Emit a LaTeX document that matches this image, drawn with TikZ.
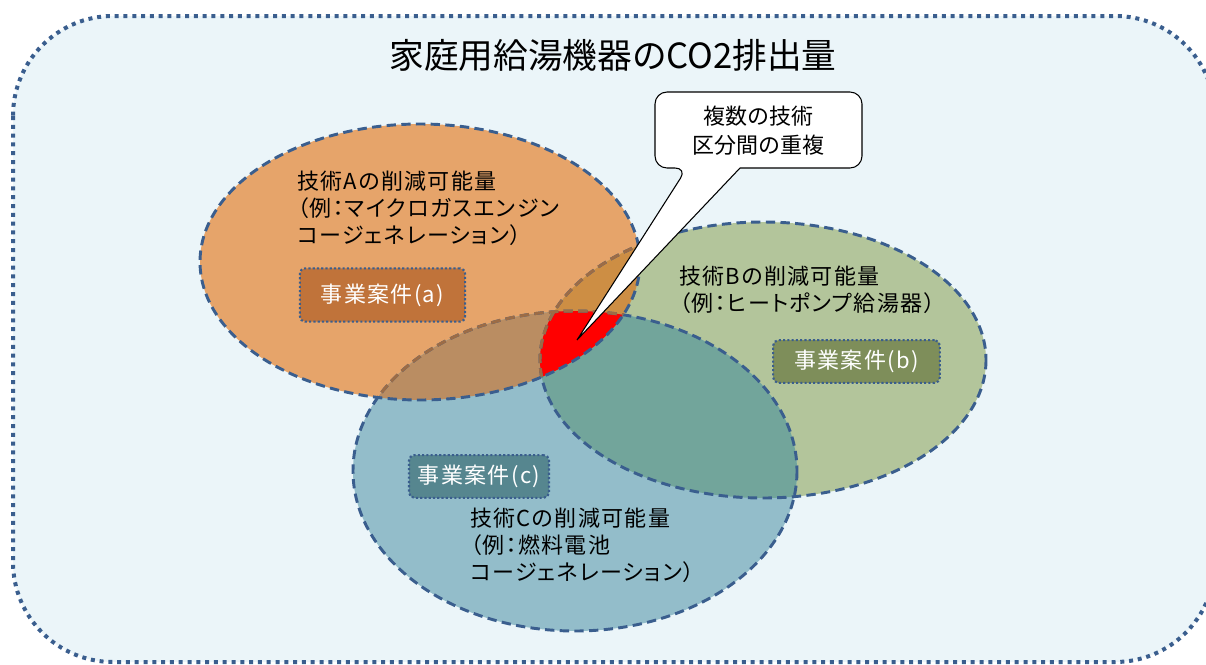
\documentclass[tikz,border=0pt]{standalone}
\usepackage{fontspec}
\setmainfont{Noto Sans CJK JP}
\newfontfamily\jpp{Noto Sans CJK JP}[RawFeature=+palt, LetterSpace=6]
\begin{document}
\begin{tikzpicture}[x=0.75pt,y=-0.75pt]
\definecolor{bgc}{HTML}{EBF5F9}
\definecolor{bordblue}{HTML}{3A5E8E}
\definecolor{Acol}{HTML}{E6A46A}
\definecolor{Bcol}{HTML}{B3C59B}
\definecolor{Ccol}{HTML}{93BDCA}
\definecolor{ABcol}{HTML}{CD8E44}
\definecolor{ACcol}{HTML}{BA8D62}
\definecolor{BCcol}{HTML}{72A59B}
\definecolor{browndash}{HTML}{9C6C46}
\definecolor{boxa}{HTML}{C0733A}
\definecolor{boxb}{HTML}{7E8E5A}
\definecolor{boxc}{HTML}{56868F}
\tikzset{
  ell/.style={line width=2.2pt, dash pattern=on 7pt off 4pt},
  casebox/.style={draw=bordblue, line width=1.6pt, dash pattern=on 1.6pt off 1.6pt,
    rounded corners=4pt, text=white, font=\jpp\fontsize{16.5pt}{18pt}\selectfont,
    minimum height=40pt, inner sep=0pt},
  lbl/.style={anchor=north west, align=left, inner sep=0pt,
    font=\jpp\fontsize{16.5pt}{20.3pt}\selectfont},
}
\useasboundingbox (0,0) rectangle (1206,664);
\clip (0,0) rectangle (1206,664);
% outer frame
\draw[fill=bgc, draw=bordblue, line width=3pt, dash pattern=on 3pt off 3.6pt,
  rounded corners=75pt] (13,16) rectangle (1215,662);
\node[font=\fontsize{26pt}{30pt}\selectfont] (title) at (613,55) {家庭用給湯機器のCO2排出量};
% ellipse paths
\def\pA{(420,262) ellipse [x radius=220, y radius=138]}
\def\pB{(763,360) ellipse [x radius=223, y radius=138]}
\def\pC{(575,471) ellipse [x radius=222, y radius=160]}
\fill[Acol] \pA;
\fill[Bcol] \pB;
\fill[Ccol] \pC;
\begin{scope}\clip \pA; \fill[ABcol] \pB; \end{scope}
\begin{scope}\clip \pA; \fill[ACcol] \pC; \end{scope}
\begin{scope}\clip \pB; \fill[BCcol] \pC; \end{scope}
\begin{scope}\clip \pA; \clip \pC; \fill[red] \pB; \end{scope}
% outlines
\draw[ell, draw=bordblue] \pB;
\draw[ell, draw=bordblue] \pC;
\begin{scope}\clip \pA;
  \draw[ell, draw=browndash] \pB;
  \draw[ell, draw=browndash] \pC;
\end{scope}
\draw[ell, draw=bordblue] \pA;
% labels
\node[lbl] (la) at (297,171) {技術Aの削減可能量\\（例：マイクロガスエンジン\\コージェネレーション）};
\node[lbl] (lb) at (679,266) {技術Bの削減可能量\\（例：ヒートポンプ給湯器）};
\node[lbl] (lc) at (470,508) {技術Cの削減可能量\\（例：燃料電池\\コージェネレーション）};
% case boxes
\node[casebox, fill=boxa, minimum width=124pt] (ca) at (382.5,295) {事業案件(a)};
\node[casebox, fill=boxb, minimum width=125pt, minimum height=32pt] (cb) at (856.5,361.5) {事業案件(b)};
\node[casebox, fill=boxc, minimum width=105pt, minimum height=32pt] (cc) at (479,476.5) {事業案件(c)};
% callout
\coordinate (tip) at (577,340);
\draw[fill=white, line width=0.8pt, rounded corners=9pt]
  (740,168) -- (862,168) -- (862,92) -- (655,92) -- (655,168) -- (687,168)
  [sharp corners] -- (tip) -- cycle;
\node[align=center, font=\fontsize{16.5pt}{21.5pt}\selectfont] (callout) at (758,131) {複数の技術\\区分間の重複};
\end{tikzpicture}
\end{document}
